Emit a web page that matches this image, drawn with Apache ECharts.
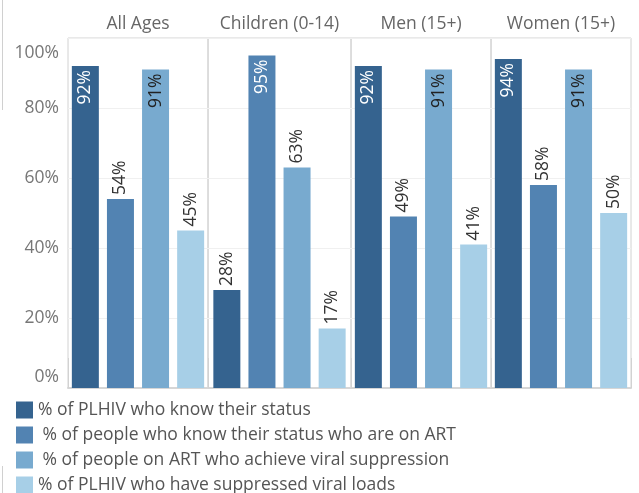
<!DOCTYPE html>
<html>
<head>
<meta charset="utf-8">
<script src="https://cdn.jsdelivr.net/npm/echarts@6/dist/echarts.min.js"></script>
<style>
  html, body { margin: 0; padding: 0; background: #fff; }
  #chart { width: 639px; height: 493px; }
</style>
</head>
<body>
<div id="chart"></div>
<script>
// panels and measures
var panels = ['All Ages', 'Children (0-14)', 'Men (15+)', 'Women (15+)'];
var measures = [
    '% of PLHIV who know their status',
    ' % of people who know their status who are on ART',
    ' % of people on ART who achieve viral suppression',
    '% of PLHIV who have suppressed viral loads'
];
// values per panel, in panel order
var knowStatus = [92, 28, 92, 94];
var onART = [54, 95, 49, 58];
var suppressedOnART = [91, 63, 91, 91];
var suppressedAll = [45, 17, 41, 50];
var yTicks = [0, 20, 40, 60, 80, 100];

var values = [knowStatus, onART, suppressedOnART, suppressedAll];
var colors = ['#35638f', '#5283b2', '#78aacf', '#a7cfe7'];
var insideText = ['#ffffff', '#ffffff', '#222222', '#222222'];

var panelLeft = [68, 208, 351, 491];
var panelWidth = [140, 143, 140, 140];
var fontFam = '"Open Sans", "Noto Sans", sans-serif';
var fs = 17.5;

function createViz() {
    var myChart = echarts.init(document.getElementById('chart'));
    var grids = [], xAxes = [], yAxes = [], series = [];

    panels.forEach(function(p, i) {
        grids.push({
            left: panelLeft[i], width: panelWidth[i], top: 38, bottom: 105,
            show: true, borderColor: '#d2d2d2', borderWidth: 1
        });
        xAxes.push({
            gridIndex: i, type: 'category', data: [p], position: 'top',
            axisLine: { show: true, lineStyle: { color: '#d6d6d6', width: 2 } },
            axisTick: { show: true, length: 30, lineStyle: { color: '#d2d2d2' } },
            axisLabel: { color: '#666', fontSize: fs, margin: 5, fontFamily: fontFam }
        });
        yAxes.push({
            gridIndex: i, type: 'value', min: 0, max: 100, interval: 20,
            axisLine: { show: false }, axisTick: { show: false },
            splitLine: { lineStyle: { color: '#f0f0f0' } },
            axisLabel: {
                show: i === 0, color: '#777', fontSize: fs, margin: 9, fontFamily: fontFam,
                formatter: function(v) {
                    if (v === yTicks[0]) return '{lo|' + v + '%}';
                    if (v === yTicks[yTicks.length - 1]) return '{hi|' + v + '%}';
                    return v + '%';
                },
                rich: {
                    lo: { fontSize: fs, color: '#777', fontFamily: fontFam, padding: [0, 0, 22, 0] },
                    hi: { fontSize: fs, color: '#777', fontFamily: fontFam, padding: [30, 0, 0, 0] }
                }
            }
        });
        measures.forEach(function(m, s) {
            var v = values[s][i];
            var inside = v >= 90;
            series.push({
                name: m, type: 'bar', xAxisIndex: i, yAxisIndex: i,
                barWidth: 27, barGap: '30%',
                itemStyle: { color: colors[s] },
                data: [{
                    value: v,
                    label: {
                        show: true, rotate: 90,
                        position: inside ? 'insideTop' : 'top',
                        align: inside ? 'right' : 'left',
                        verticalAlign: 'middle',
                        distance: 4,
                        color: inside ? insideText[s] : '#333',
                        fontSize: fs, fontFamily: fontFam,
                        formatter: '{c}%'
                    }
                }]
            });
        });
    });

    var option = {
        animation: false,
        color: colors,
        grid: grids,
        xAxis: xAxes,
        yAxis: yAxes,
        legend: {
            orient: 'vertical', left: 16, top: 401, height: 100, padding: 0,
            icon: 'rect', itemWidth: 17, itemHeight: 17, itemGap: 7,
            selectedMode: false,
            data: measures,
            textStyle: { color: '#555', fontSize: fs, lineHeight: 17, fontFamily: fontFam }
        },
        graphic: [
            { type: 'line', shape: { x1: 2.5, y1: 0, x2: 2.5, y2: 110 }, style: { stroke: '#d0d0d0' } },
            { type: 'line', shape: { x1: 2.5, y1: 466, x2: 2.5, y2: 493 }, style: { stroke: '#d0d0d0' } }
        ],
        series: series
    };

    myChart.setOption(option);
}

createViz();
</script>
</body>
</html>
